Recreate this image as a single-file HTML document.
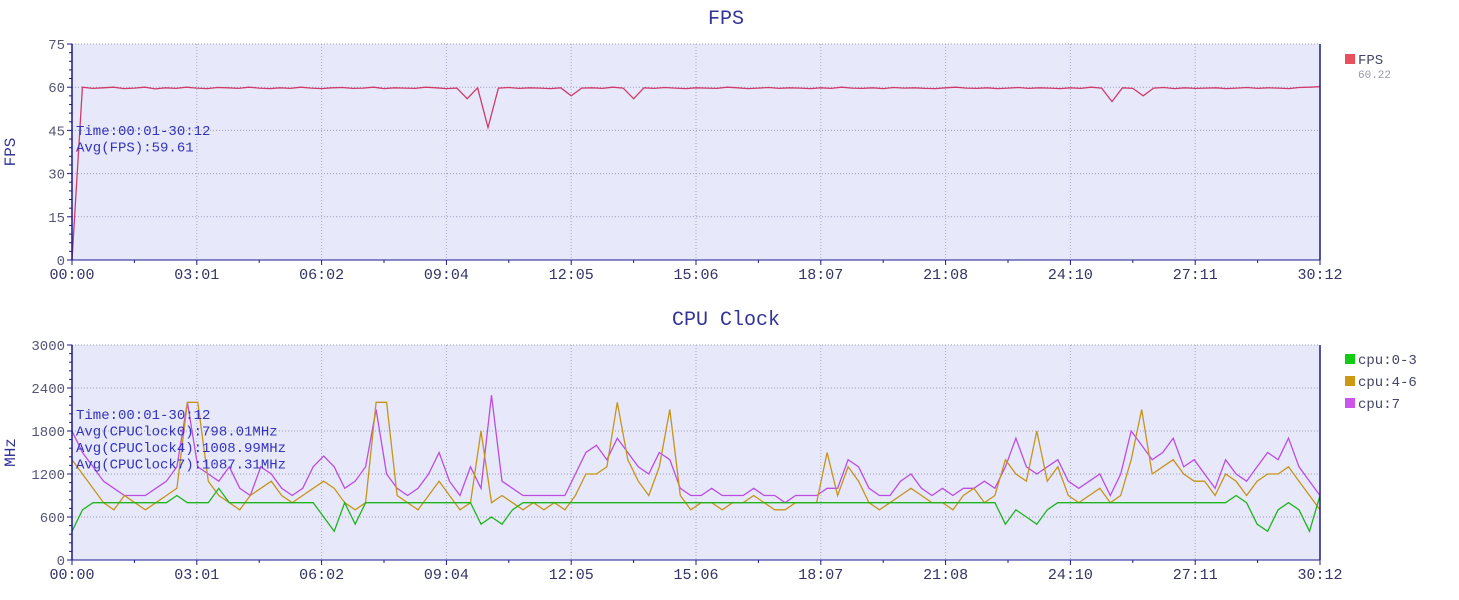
<!DOCTYPE html>
<html><head><meta charset="utf-8">
<style>
html,body{margin:0;padding:0;background:#fff;}
svg{display:block;font-family:"Liberation Mono","Noto Sans CJK SC",monospace;}
</style></head>
<body>
<svg id="chart" width="1459" height="600" xmlns="http://www.w3.org/2000/svg"></svg>
<script>
const timeTicks = ["00:00","03:01","06:02","09:04","12:05","15:06","18:07","21:08","24:10","27:11","30:12"];
const fpsTicks = [0,15,30,45,60,75];
const cpuTicks = [0,600,1200,1800,2400,3000];
const fpsValues = [0,60,59.6,59.8,60,59.5,59.7,60,59.4,59.8,
 59.6,60,59.7,59.5,59.9,59.8,59.6,60,59.7,59.5,
 59.8,59.6,60,59.7,59.5,59.8,59.9,59.6,59.7,60,
 59.5,59.8,59.7,59.6,60,59.8,59.5,59.7,56,59.8,
 46,59.7,59.9,59.6,59.8,59.7,59.5,59.8,57,59.7,
 59.8,59.6,60,59.7,56,59.8,59.6,59.9,59.7,59.5,
 59.8,59.7,59.6,60,59.8,59.5,59.7,59.9,59.6,59.8,
 59.7,59.5,59.8,59.6,60,59.7,59.6,59.8,59.5,59.9,
 59.7,59.8,59.6,59.5,59.8,60,59.7,59.6,59.8,59.5,
 59.7,59.9,59.6,59.8,59.7,59.5,59.8,59.6,60,59.7,
 55,59.8,59.6,57,59.7,59.9,59.5,59.8,59.6,59.7,
 59.8,59.5,59.7,59.9,59.6,59.8,59.7,59.5,59.9,60,60.2];
const cpu7 = [1800,1500,1300,1100,1000,900,900,900,1000,1100,
 1300,2200,1300,1200,1100,1300,1000,900,1300,1200,
 1000,900,1000,1300,1450,1300,1000,1100,1300,2100,
 1200,1000,900,1000,1200,1500,1100,900,1300,1000,
 2300,1100,1000,900,900,900,900,900,1200,1500,
 1600,1400,1700,1500,1300,1200,1500,1400,1000,900,
 900,1000,900,900,900,1000,900,900,800,900,
 900,900,1000,1000,1400,1300,1000,900,900,1100,
 1200,1000,900,1000,900,1000,1000,1100,1000,1300,
 1700,1300,1200,1300,1400,1100,1000,1100,1200,900,
 1200,1800,1600,1400,1500,1700,1300,1400,1200,1000,
 1400,1200,1100,1300,1500,1400,1700,1300,1100,900];
const cpu46 = [1400,1200,1000,800,700,900,800,700,800,900,
 1000,2200,2200,1100,900,800,700,900,1000,1100,
 900,800,900,1000,1100,1000,800,700,800,2200,
 2200,900,800,700,900,1100,900,700,800,1800,
 800,900,800,700,800,700,800,700,900,1200,
 1200,1300,2200,1400,1100,900,1300,2100,900,700,
 800,800,700,800,800,900,800,700,700,800,
 800,800,1500,900,1300,1100,800,700,800,900,
 1000,900,800,800,700,900,1000,800,900,1400,
 1200,1100,1800,1100,1300,900,800,900,1000,800,
 900,1400,2100,1200,1300,1400,1200,1100,1100,900,
 1200,1100,900,1100,1200,1200,1300,1100,900,700];
const cpu03 = [400,700,800,800,800,800,800,800,800,800,
 900,800,800,800,1000,800,800,800,800,800,
 800,800,800,800,600,400,800,500,800,800,
 800,800,800,800,800,800,800,800,800,500,
 600,500,700,800,800,800,800,800,800,800,
 800,800,800,800,800,800,800,800,800,800,
 800,800,800,800,800,800,800,800,800,800,
 800,800,800,800,800,800,800,800,800,800,
 800,800,800,800,800,800,800,800,800,500,
 700,600,500,700,800,800,800,800,800,800,
 800,800,800,800,800,800,800,800,800,800,
 800,900,800,500,400,700,800,700,400,900];

const svg = document.getElementById('chart');
const NS = 'http://www.w3.org/2000/svg';
function mk(tag, attrs, parent, text){
  const e = document.createElementNS(NS, tag);
  for (const k in attrs) e.setAttribute(k, attrs[k]);
  if (text !== undefined) e.textContent = text;
  (parent || svg).appendChild(e);
  return e;
}
const X0 = 72, X1 = 1320;

function drawPanel(cfg){
  const g = mk('g', {});
  
  
  const yS = v => cfg.yb - (v - cfg.ticks[0]) / (cfg.ticks[cfg.ticks.length-1] - cfg.ticks[0]) * (cfg.yb - cfg.yt);
  const xS = (i, n) => X0 + i / (n - 1) * (X1 - X0);
  const bg = mk('rect', {x:X0, y:cfg.yt, width:X1-X0, height:cfg.yb-cfg.yt, fill:'#e8e8fb'}, g);
  
  
  const title = mk('text', {x:(X0+X1)/2+30, y:cfg.yt-20, 'text-anchor':'middle', 'font-size':20, fill:'#333399'}, g, cfg.title);
  
  
  cfg.ticks.forEach((t, i) => {
    const y = yS(t);
    mk('line', {x1:X0, x2:X1, y1:y, y2:y, stroke:'#9a9ab8', 'stroke-dasharray':'1,2', 'stroke-width':1}, g);
    mk('line', {x1:X0-5, x2:X0, y1:y, y2:y, stroke:'#1a1a8c'}, g);
    if (i < cfg.ticks.length - 1) {
      for (let m = 1; m < 5; m++) {
        const ym = y - m * (yS(cfg.ticks[0]) - yS(cfg.ticks[1])) / 5;
        mk('line', {x1:X0-3, x2:X0, y1:ym, y2:ym, stroke:'#1a1a8c'}, g);
      }
    }
    const lb = mk('text', {x:X0-7, y:y+5, 'text-anchor':'end', 'font-size':14, fill:'#555577'}, g, t);
    
    
  });
  timeTicks.forEach((t, i) => {
    const x = X0 + i * (X1 - X0) / (timeTicks.length - 1);
    if (i > 0 && i < timeTicks.length - 1) mk('line', {x1:x, x2:x, y1:cfg.yt, y2:cfg.yb, stroke:'#a8a8c8', 'stroke-dasharray':'1,2'}, g);
    mk('line', {x1:x, x2:x, y1:cfg.yb, y2:cfg.yb+5, stroke:'#1a1a8c'}, g);
    if (i < timeTicks.length - 1) {
      const xm = x + (X1 - X0) / (timeTicks.length - 1) / 2;
      mk('line', {x1:xm, x2:xm, y1:cfg.yb, y2:cfg.yb+3, stroke:'#1a1a8c'}, g);
    }
    const lb = mk('text', {x:x, y:cfg.yb+19, 'text-anchor':'middle', 'font-size':15, fill:'#333366'}, g, t);
    
    
  });
  cfg.series.forEach(s => {
    const pts = s.data.map((v, i) => xS(i, s.data.length).toFixed(1) + ',' + yS(v).toFixed(1)).join(' ');
    const pl = mk('polyline', {points:pts, fill:'none', stroke:s.color, 'stroke-width':1.3}, g);
    
    
  });
  mk('line', {x1:X0, x2:X0, y1:cfg.yt, y2:cfg.yb, stroke:'#1a1a8c', 'stroke-width':1.5}, g);
  mk('line', {x1:X1, x2:X1, y1:cfg.yt, y2:cfg.yb, stroke:'#1a1a8c', 'stroke-width':1.5}, g);
  mk('line', {x1:X0, x2:X1, y1:cfg.yb, y2:cfg.yb, stroke:'#1a1a8c', 'stroke-width':1}, g);
  const yt = mk('text', {x:0, y:0, 'text-anchor':'middle', 'font-size':16, fill:'#333399', transform:'translate(15,'+((cfg.yt+cfg.yb)/2)+') rotate(-90)'}, g, cfg.ytitle);
  
  
  cfg.info.forEach((line, i) => {
    const t = mk('text', {x:X0+4, y:cfg.infoY + i*16.5, 'font-size':14, fill:'#3333bb'}, g, line);
    
    
  });
  cfg.legend.forEach((l, i) => {
    const lg = mk('g', {}, g);
    
    
    mk('rect', {x:1345, y:cfg.legY + i*22 - 10, width:10, height:10, fill:l.color}, lg);
    mk('text', {x:1358, y:cfg.legY + i*22, 'font-size':14, fill:'#444466'}, lg, l.label);
    if (l.sub) mk('text', {x:1358, y:cfg.legY + 14, 'font-size':11, fill:'#9999aa'}, lg, l.sub);
  });
}

drawPanel({name:'fps-panel', title:'FPS', ytitle:'FPS', yt:44, yb:260, ticks:fpsTicks,
  series:[{name:'fps', color:'#d03a6a', data:fpsValues}],
  info:['Time:00:01-30:12','Avg(FPS):59.61'], infoY:135,
  legend:[{label:'FPS', color:'#e8505b', sub:'60.22'}], legY:64});
drawPanel({name:'cpu-clock-panel', title:'CPU Clock', ytitle:'MHz', yt:345, yb:560, ticks:cpuTicks,
  series:[{name:'cpu-7', color:'#bb4de0', data:cpu7},{name:'cpu-4-6', color:'#c4951a', data:cpu46},{name:'cpu-0-3', color:'#1db51d', data:cpu03}],
  info:['Time:00:01-30:12','Avg(CPUClock0):798.01MHz','Avg(CPUClock4):1008.99MHz','Avg(CPUClock7):1087.31MHz'], infoY:419,
  legend:[{label:'cpu:0-3', color:'#11cc11'},{label:'cpu:4-6', color:'#cc9a11'},{label:'cpu:7', color:'#cc55ee'}], legY:364});
</script>
</body></html>
